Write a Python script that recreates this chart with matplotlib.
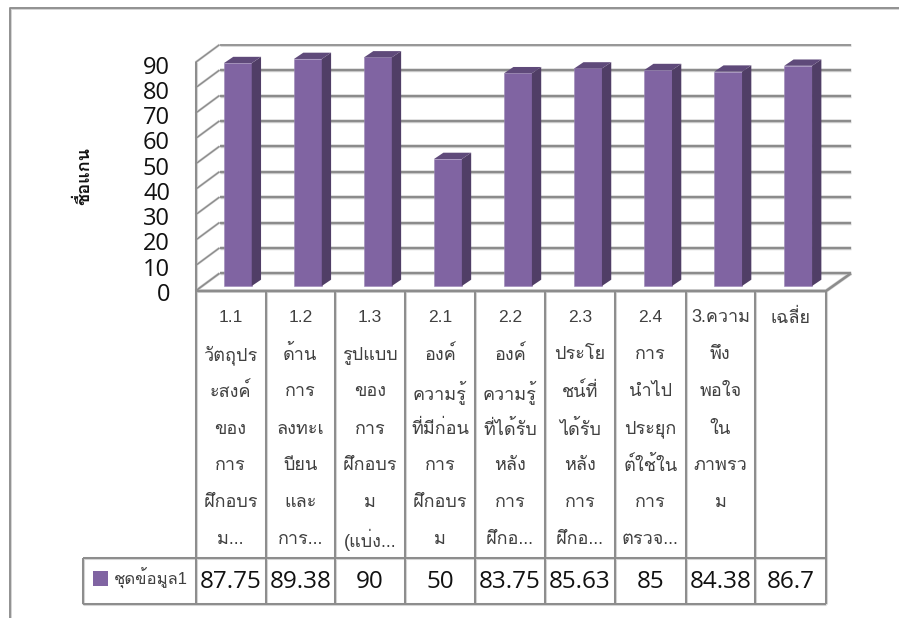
import matplotlib
matplotlib.use("Agg")
import matplotlib.pyplot as plt
from matplotlib import font_manager as fm
from matplotlib.patches import Polygon, Rectangle
from matplotlib.transforms import Affine2D

series_name = "ชุดข้อมูล1"
axis_title = "ชื่อแกน"
values = [87.75, 89.38, 90, 50, 83.75, 85.63, 85, 84.38, 86.7]
value_labels = ["87.75", "89.38", "90", "50", "83.75", "85.63", "85", "84.38", "86.7"]
y_ticks = [0, 10, 20, 30, 40, 50, 60, 70, 80, 90]
category_lines = [
    ["1.1", "วัตถุปร", "ะสงค์", "ของ", "การ", "ฝึกอบร", "ม..."],
    ["1.2", "ด้าน", "การ", "ลงทะเ", "บียน", "และ", "การ..."],
    ["1.3", "รูปแบบ", "ของ", "การ", "ฝึกอบร", "ม", "(แบ่ง..."],
    ["2.1", "องค์", "ความรู้", "ที่มีก่อน", "การ", "ฝึกอบร", "ม"],
    ["2.2", "องค์", "ความรู้", "ที่ได้รับ", "หลัง", "การ", "ฝึกอ..."],
    ["2.3", "ประโย", "ชน์ที่", "ได้รับ", "หลัง", "การ", "ฝึกอ..."],
    ["2.4", "การ", "นำไป", "ประยุก", "ต์ใช้ใน", "การ", "ตรวจ..."],
    ["3.ความ", "พึง", "พอใจ", "ใน", "ภาพรว", "ม"],
    ["เฉลี่ย"],
]

# find any installed family that covers Thai
thai = []
for f in fm.fontManager.ttflist:
    try:
        if 0x0E01 in fm.get_font(f.fname).get_charmap() and f.name not in thai:
            thai.append(f.name)
    except Exception:
        pass
families = ["Open Sans"] + thai + ["Noto Sans", "DejaVu Sans"]
cat_families = ["Liberation Sans"] + thai + ["DejaVu Sans"]
plt.rcParams["font.family"] = families

W, H = 899, 618
GRAY = "#8c8c8c"
HALO = "#d4d4d4"
FRONT, SIDE, TOP = "#8064a2", "#503e66", "#5f4a7a"

fig = plt.figure(figsize=(8.99, 6.18), dpi=100)
ax = fig.add_axes([0, 0, 1, 1])
# axis in data units: one category = 70.04 px, one value unit = 2.54 px
PX_CAT, PX_VAL = 70.04, 2.54
X0, Y0 = 237.85, 286.0
ax.set_xlim((0 - X0) / PX_CAT, (W - X0) / PX_CAT)
ax.set_ylim((Y0 - H) / PX_VAL, Y0 / PX_VAL)
ax.axis("off")
px = Affine2D().scale(1 / W, -1 / H).translate(0, 1) + fig.transFigure


def pline(xs, ys, lw=1.5, color=GRAY, z=1, halo=True):
    if halo:
        ax.plot(xs, ys, transform=px, color=HALO, lw=lw + 0.8, solid_capstyle="butt", zorder=z - 0.1, clip_on=False)
    ax.plot(xs, ys, transform=px, color=color, lw=lw, solid_capstyle="butt", zorder=z, clip_on=False)


# outer frame
pline([10, 10, W], [H, 8, 8], lw=1.3)

# walls and gridlines
LEFT_F, LEFT_B, RIGHT_B, RIGHT_F = 195.5, 219.5, 851, 826
FLOOR_F, FLOOR_B = 291, 273.3
for t in y_ticks:
    yb = FLOOR_B - PX_VAL * t
    yf = FLOOR_F - PX_VAL * t
    pline([LEFT_F, LEFT_B], [yf, yb], lw=1.0 if t else 1.2)
    pline([LEFT_B, RIGHT_B], [yb, yb], lw=1.7 if t < 90 else 1.2)
pline([LEFT_F, LEFT_F], [FLOOR_F - PX_VAL * 90, FLOOR_F], lw=1.4)
pline([RIGHT_B, RIGHT_F, LEFT_F], [FLOOR_B, FLOOR_F, FLOOR_F], lw=1.8)

# 3D bars
w = 27.8 / PX_CAT
dx, dy = 9.3 / PX_CAT, 6.3 / PX_VAL
xs = list(range(len(values)))
ax.bar(xs, values, width=w, color=FRONT, edgecolor="#9c86b8", linewidth=0.4, zorder=3)
for x, v in zip(xs, values):
    r, l = x + w / 2, x - w / 2
    ax.add_patch(Polygon([(r, 0), (r + dx, dy), (r + dx, v + dy), (r, v)], closed=True, fc=SIDE, ec="none", zorder=3))
    ax.add_patch(Polygon([(l, v), (l + dx, v + dy), (r + dx, v + dy), (r, v)], closed=True, fc=TOP, ec="none", zorder=3))

# y tick labels
for t, ypos in zip(y_ticks, [294.8 - 25.22 * i for i in range(10)]):
    ax.text(170, ypos, str(t), transform=px, ha="right", va="center", fontsize=17, color="#111111")

ax.text(84, 176, axis_title, transform=px, rotation=90, ha="center", va="center",
        fontsize=13, fontweight="bold", color="#111111", family=cat_families)

# data table
col_x = [195.5, 265.7, 335, 405, 475, 545, 615, 685.7, 755.3, 825.7]
TBL_TOP, TBL_MID, TBL_BOT, TBL_LEFT = 291, 558.3, 604.3, 83.3
for cx in col_x:
    pline([cx, cx], [TBL_TOP, TBL_BOT], lw=1.4)
pline([TBL_LEFT, col_x[-1]], [TBL_MID, TBL_MID], lw=1.4)
pline([TBL_LEFT, col_x[-1]], [TBL_BOT, TBL_BOT], lw=1.4)
pline([TBL_LEFT, TBL_LEFT], [TBL_MID, TBL_BOT], lw=1.4)

line_y = [318, 354.7, 391.8, 429, 465.8, 502.8, 540]
for i, lines in enumerate(category_lines):
    c = (col_x[i] + col_x[i + 1]) / 2
    for ln, yy in zip(lines, line_y):
        fs = 12.5 if ln.isascii() else 13
        ax.text(c, yy, ln, transform=px, ha="center", va="center", fontsize=fs, color="#404040", family=cat_families)
    ax.text(c, 582, value_labels[i], transform=px, ha="center", va="center", fontsize=17.5, color="#111111")

ax.add_patch(Rectangle((93, 571), 14.7, 14.7, transform=px, fc=FRONT, ec="none", zorder=3))
ax.text(113.5, 578.5, series_name, transform=px, ha="left", va="center", fontsize=12, color="#404040", family=cat_families)

fig.savefig("out.png", dpi=100)
